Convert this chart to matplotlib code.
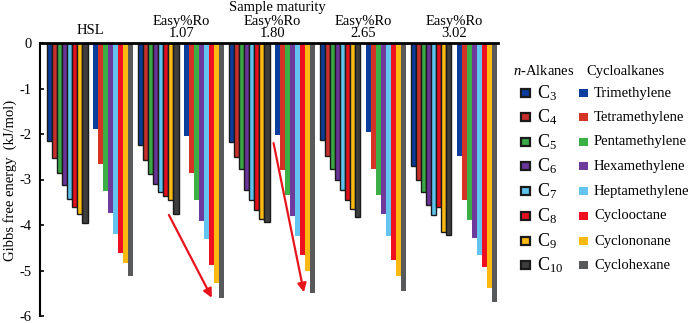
import matplotlib
matplotlib.use('Agg')
import matplotlib.pyplot as plt
from matplotlib.patches import Rectangle
from matplotlib.transforms import blended_transform_factory
import numpy as np

plt.rcParams['font.family'] = ['Liberation Serif', 'DejaVu Serif']
plt.rcParams['mathtext.fontset'] = 'custom'
plt.rcParams['mathtext.rm'] = 'Liberation Serif'
plt.rcParams['mathtext.it'] = 'Liberation Serif:italic'

# ---------------- data ----------------
group_labels = ['HSL', 'Easy%Ro\n1.07', 'Easy%Ro\n1.80', 'Easy%Ro\n2.65', 'Easy%Ro\n3.02']
alkane_labels = ['C$_3$', 'C$_4$', 'C$_5$', 'C$_6$', 'C$_7$', 'C$_8$', 'C$_9$', 'C$_{10}$']
cyclo_labels = ['Trimethylene', 'Tetramethylene', 'Pentamethylene', 'Hexamethylene',
                'Heptamethylene', 'Cyclooctane', 'Cyclononane', 'Cyclohexane']

alk_hsl = [-2.15, -2.52, -2.85, -3.13, -3.43, -3.61, -3.76, -3.96]
cyc_hsl = [-1.89, -2.67, -3.26, -3.74, -4.19, -4.61, -4.83, -5.11]
alk_107 = [-2.24, -2.58, -2.88, -3.09, -3.27, -3.37, -3.45, -3.76]
cyc_107 = [-2.04, -2.85, -3.45, -3.91, -4.30, -4.88, -5.28, -5.61]
alk_180 = [-2.17, -2.50, -2.78, -3.22, -3.45, -3.67, -3.87, -3.93]
cyc_180 = [-2.02, -2.80, -3.35, -3.80, -4.24, -4.65, -5.02, -5.50]
alk_265 = [-2.14, -2.48, -2.78, -3.02, -3.22, -3.45, -3.65, -3.83]
cyc_265 = [-1.95, -2.78, -3.33, -3.76, -4.24, -4.78, -5.13, -5.46]
alk_302 = [-2.70, -3.00, -3.28, -3.56, -3.78, -3.61, -4.15, -4.22]
cyc_302 = [-2.48, -3.46, -3.90, -4.28, -4.65, -4.93, -5.39, -5.70]

alk_colors = ['#0b3b9b', '#c9302c', '#3aa845', '#6a3499', '#5ec3ee', '#e3101e', '#fbb914', '#3e3e3e']
cyc_colors = ['#0b3d9c', '#d63327', '#3cb044', '#6e3a9c', '#63c4f0', '#ee1020', '#fcb912', '#58595b']

# arrows (data coords): start, end
arrow1 = [(23.6, -3.78), (32.1, -5.60)]
arrow2 = [(44.3, -2.20), (50.3, -5.48)]

# ---------------- figure ----------------
W, H = 692, 323
TOP, BOT = 43, 316
fig = plt.figure(figsize=(W / 100, H / 100), dpi=100)
ax = fig.add_axes([40 / W, 1 - BOT / H, (498 - 40) / W, (BOT - TOP) / H])

alk_series = [alk_hsl, alk_107, alk_180, alk_265, alk_302]
cyc_series = [cyc_hsl, cyc_107, cyc_180, cyc_265, cyc_302]
idx = np.arange(8)
for g in range(5):
    base_a = 18 * g
    base_c = 18 * g + 9
    ax.bar(base_a + idx, alk_series[g], width=1.0, color=alk_colors,
           edgecolor='#1a1a1a', linewidth=1.0, zorder=2)
    ax.bar(base_c + idx, cyc_series[g], width=1.0, color=cyc_colors,
           linewidth=0, zorder=2)

ax.set_xlim(-1.9, 88.7)
ax.set_ylim(-6, 0)
ax.set_xticks([])
ax.set_yticks([0, -1, -2, -3, -4, -5, -6])
ax.set_yticklabels(['0', '-1', '-2', '-3', '-4', '-5', '-6'])
ax.tick_params(axis='y', direction='in', length=3, width=1.2, pad=6, labelsize=10.5)
for s in ['right', 'bottom']:
    ax.spines[s].set_visible(False)
ax.spines['top'].set_linewidth(2.0)
ax.spines['left'].set_linewidth(1.5)
ax.spines['top'].set_zorder(5)

# group labels
trans = blended_transform_factory(ax.transData, fig.transFigure)
for g, lab in enumerate(group_labels):
    xc = 18 * g + 8
    yb = 37 if g == 0 else 40
    ax.text(xc, 1 - yb / H, lab, transform=trans, ha='center', va='bottom',
            fontsize=10.5, linespacing=0.92)
ax.text(18 * 2 + 9, 1 - 1 / H, 'Sample maturity', transform=trans,
        ha='center', va='top', fontsize=10.5)

# arrows
for a in [arrow1, arrow2]:
    ax.annotate('', xy=a[1], xytext=a[0],
                arrowprops=dict(arrowstyle='-|>', color='#e8141c', lw=1.6,
                                mutation_scale=13, shrinkA=0, shrinkB=0), zorder=6)

# ylabel
fig.text(10 / W, 1 - 180 / H, 'Gibbs free energy  (kJ/mol)', rotation=90,
         ha='center', va='center', fontsize=10.5)

# legend (manual)
fig.text(513 / W, 1 - 71 / H, '$n$-Alkanes', ha='left', va='center', fontsize=10.5)
fig.text(586 / W, 1 - 71 / H, 'Cycloalkanes', ha='left', va='center', fontsize=10.5)
rows = [93, 117, 142, 166, 191, 216, 241, 265]
sq = 8.5
for i in range(8):
    yc = rows[i]
    fig.add_artist(Rectangle(((525.5 - sq / 2) / W, 1 - (yc + sq / 2) / H), sq / W, sq / H,
                             transform=fig.transFigure, facecolor=alk_colors[i],
                             edgecolor='#1a1a1a', linewidth=1.6))
    fig.text(537 / W, 1 - yc / H, alkane_labels[i], ha='left', va='center', fontsize=13)
    fig.add_artist(Rectangle(((583.5 - sq / 2) / W, 1 - (yc + sq / 2) / H), sq / W, sq / H,
                             transform=fig.transFigure, facecolor=cyc_colors[i],
                             edgecolor='none'))
    fig.text(594 / W, 1 - yc / H, cyclo_labels[i], ha='left', va='center', fontsize=10.5)

fig.savefig('out.png', dpi=100)
